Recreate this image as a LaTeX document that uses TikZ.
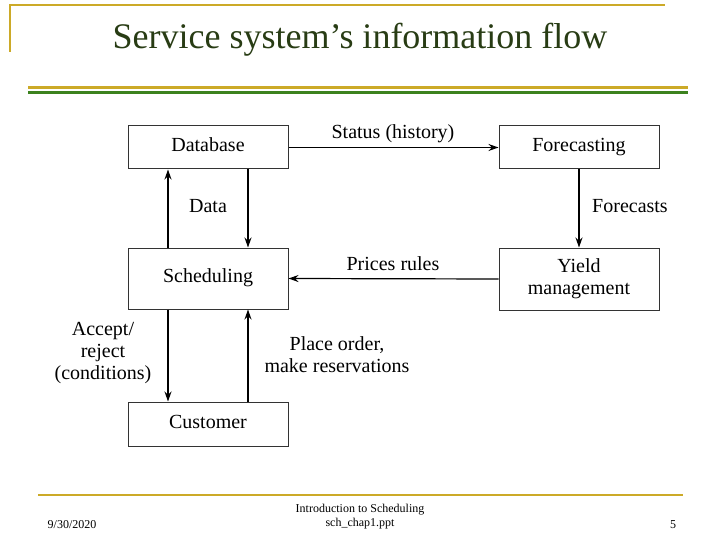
\documentclass[tikz,border=0pt]{standalone}
\usepackage{fontspec}
\setmainfont{Liberation Serif}
\usetikzlibrary{arrows.meta}
\begin{document}
\begin{tikzpicture}[x=1pt,y=-1pt,
  box/.style={draw=black!80,line width=1pt,minimum width=160pt,font=\fontsize{20}{22}\selectfont,align=center},
  lab/.style={font=\fontsize{20}{22}\selectfont,align=center},
  arr/.style={-{Stealth[length=10pt,width=7pt]},line width=1.2pt},
  gold/.style={draw={rgb,255:red,204;green,170;blue,40},line width=2.5pt},
  foot/.style={font=\fontsize{12}{14}\selectfont,align=center}]
\useasboundingbox (0,0) rectangle (720,540);
% decoration
\draw[gold] (10,52) -- (10,5) -- (665,5);
\draw[gold,line width=3pt] (28,88) -- (688,88);
\draw[draw={rgb,255:red,60;green,130;blue,30},line width=3pt] (28,93) -- (688,93);
\draw[gold,line width=2pt] (38,495) -- (683,495);
\node[font=\fontsize{36}{40}\selectfont,text={rgb,255:red,40;green,60;blue,20}] (title) at (360,40) {Service system’s information flow};
\node[foot] (date) at (72,525) {9/30/2020};
\node[foot] (mid) at (360,517) {Introduction to Scheduling\\sch\_chap1.ppt};
\node[foot] (pg) at (673,525) {5};
% boxes
\node[box,minimum height=43pt] (db) at (208,147.5) {\strut Database};
\node[box,minimum height=43pt] (fc) at (579,147.5) {\strut Forecasting};
\node[box,minimum height=61pt] (sc) at (208,278.5) {\strut Scheduling};
\node[box,minimum height=62pt] (ym) at (579,279) {Yield\\management};
\node[box,minimum height=44pt] (cu) at (208,424) {\strut Customer};
% arrows
\draw[arr] (db.east) -- (fc.west);
\node[lab] (l1) at (393,134) {Status (history)};
\draw[arr] (fc.south) -- (ym.north);
\node[lab] (l2) at (630,206) {Forecasts};
\draw[arr] (ym.west) -- (sc.east);
\node[lab] (l3) at (393,264) {Prices rules};
\draw[arr] (sc.north -| 168,0) -- (db.south -| 168,0);
\draw[arr] (db.south -| 248,0) -- (sc.north -| 248,0);
\node[lab] (l4) at (208,206) {Data};
\draw[arr] (sc.south -| 168,0) -- (cu.north -| 168,0);
\draw[arr] (cu.north -| 248,0) -- (sc.south -| 248,0);
\node[lab] (l5) at (103,353) {Accept/\\reject\\(conditions)};
\node[lab] (l6) at (337,355) {Place order,\\make reservations};
\end{tikzpicture}
\end{document}
